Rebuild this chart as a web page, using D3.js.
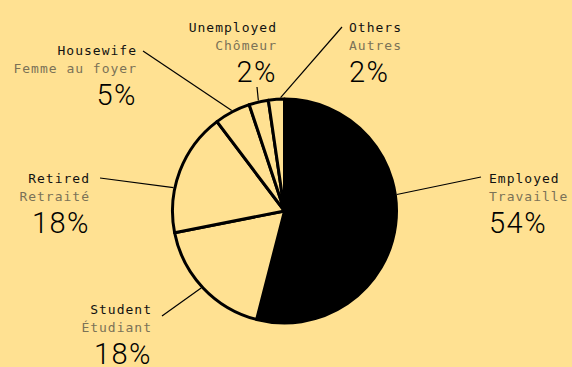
<!DOCTYPE html>
<html>
<head>
<meta charset="utf-8">
<script src="https://cdn.jsdelivr.net/npm/d3@7"></script>
<style>
  html, body { margin: 0; padding: 0; background: #FFE192; }
  svg { display: block; }
</style>
</head>
<body>
<svg id="chart" width="572" height="367"></svg>
<script>
// ---- data ----
const categories = ["Employed", "Student", "Retired", "Housewife", "Unemployed", "Others"];
const categoriesFr = ["Travaille", "Étudiant", "Retraité", "Femme au foyer", "Chômeur", "Autres"];
const values = [54.0, 17.9, 17.8, 5.2, 2.8, 2.3];
const valueLabels = ["54%", "18%", "18%", "5%", "2%", "2%"];

// ---- layout (positions & styles, not data) ----
const W = 572, H = 367;
const cx = 284.5, cy = 211, R = 112;
const bg = "#FFE192", grey = "#7b7257";
// label anchor (x, baseline of first line), text-anchor, leader start, rim fraction within slice
const labelLayout = [
  { x: 489, y: 183, anchor: "start", lx: 481, ly: 177, f: 0.42 },
  { x: 152, y: 314, anchor: "end",   lx: 162, ly: 316, f: 0.51 },
  { x: 90,  y: 183, anchor: "end",   lx: 100, ly: 178, f: 0.36 },
  { x: 137, y: 55,  anchor: "end",   lx: 143, ly: 51,  f: 0.5 },
  { x: 277, y: 32,  anchor: "end",   lx: 257, ly: 87,  f: 0.5 },
  { x: 349, y: 32,  anchor: "start", lx: 342, ly: 27,  f: 0.76 }
];

const svg = d3.select("#chart");
svg.append("rect").attr("width", W).attr("height", H).attr("fill", bg);

const pie = d3.pie().sort(null).value(d => d)(values);
const arc = d3.arc().innerRadius(0).outerRadius(R);

const g = svg.append("g").attr("transform", `translate(${cx},${cy})`);
g.selectAll("path.slice")
  .data(pie)
  .join("path")
  .attr("class", "slice")
  .attr("d", arc)
  .attr("fill", (d, i) => i === 0 ? "#000" : bg)
  .attr("stroke", "#000")
  .attr("stroke-width", 3)
  .attr("stroke-linejoin", "round");

// leaders and labels
pie.forEach((p, i) => {
  const L = labelLayout[i];
  const a = p.startAngle + (p.endAngle - p.startAngle) * L.f;
  const rx = cx + (R + 1.5) * Math.sin(a);
  const ry = cy - (R + 1.5) * Math.cos(a);
  svg.append("line")
    .attr("x1", L.lx).attr("y1", L.ly)
    .attr("x2", rx).attr("y2", ry)
    .attr("stroke", "#000").attr("stroke-width", 1.2);

  const t = svg.append("g").attr("text-anchor", L.anchor);
  t.append("text")
    .attr("x", L.x).attr("y", L.y)
    .attr("font-family", "'DejaVu Sans Mono', monospace")
    .attr("font-size", 13).attr("letter-spacing", 1)
    .attr("fill", "#111")
    .text(categories[i]);
  t.append("text")
    .attr("x", L.x).attr("y", L.y + 18)
    .attr("font-family", "'DejaVu Sans Mono', monospace")
    .attr("font-size", 13).attr("letter-spacing", 1)
    .attr("fill", grey)
    .text(categoriesFr[i]);
  t.append("text")
    .attr("x", L.x).attr("y", L.y + 50)
    .attr("font-family", "Roboto, sans-serif")
    .attr("font-weight", 300)
    .attr("font-size", 29).attr("letter-spacing", 1.5)
    .attr("fill", "#000")
    .text(valueLabels[i]);
});
</script>
</body>
</html>
